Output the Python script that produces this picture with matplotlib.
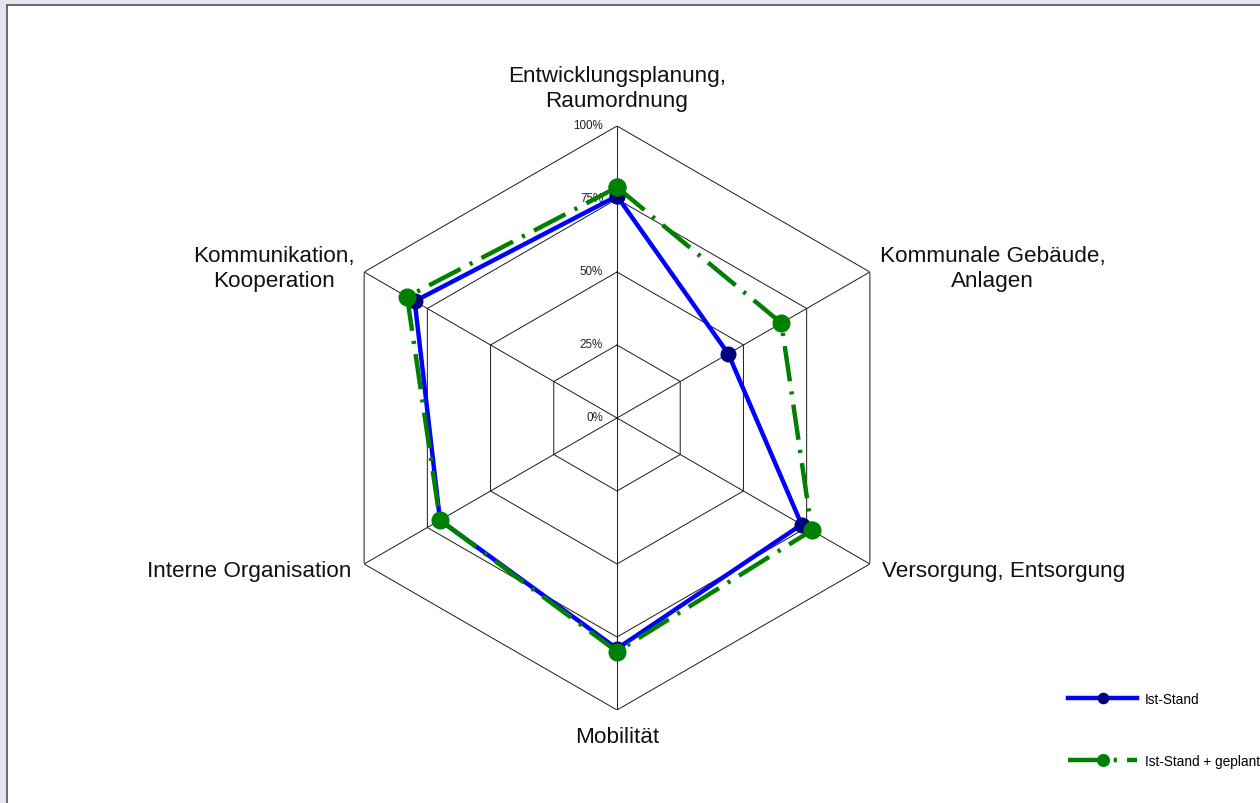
import numpy as np
import matplotlib
matplotlib.use('Agg')
import matplotlib.pyplot as plt
from matplotlib.patches import Rectangle
from matplotlib.lines import Line2D

# Daten (Prozent), Reihenfolge im Uhrzeigersinn ab oben
categories = [
    'Entwicklungsplanung,\nRaumordnung',
    'Kommunale Gebäude,\nAnlagen',
    'Versorgung, Entsorgung',
    'Mobilität',
    'Interne Organisation',
    'Kommunikation,\nKooperation',
]
ist_stand = [76, 44, 73, 79, 70, 80]
ist_geplant = [79, 65, 77, 80, 70, 83]
levels = [0, 25, 50, 75, 100]
series_names = ['Ist-Stand', 'Ist-Stand + geplant']

plt.rcParams['font.family'] = ['Liberation Sans', 'DejaVu Sans']

W, H = 1260, 804
fig = plt.figure(figsize=(W / 100, H / 100), dpi=100, facecolor='#e3e6f1')

# weisse Zeichenflaeche mit Rahmen oben/links
fig.patches.append(Rectangle((7 / W, 0), 1, 1 - 6 / H, transform=fig.transFigure,
                             facecolor='white', edgecolor='none', zorder=-10))
fig.lines.append(Line2D([6.5 / W, 1], [1 - 6 / H, 1 - 6 / H], transform=fig.transFigure,
                        color='#5f5f66', lw=1.3, zorder=-5))
fig.lines.append(Line2D([6.5 / W, 6.5 / W], [0, 1 - 6 / H], transform=fig.transFigure,
                        color='#5f5f66', lw=1.3, zorder=-5))

cx, cy, R = 617, 419, 292
ax = fig.add_axes([(cx - R) / W, (H - cy - R) / H, 2 * R / W, 2 * R / H], projection='polar')
ax.set_facecolor('none')
ax.set_theta_zero_location('N')
ax.set_theta_direction(-1)
ax.set_ylim(0, 100)
ax.grid(False)
ax.set_xticks([])
ax.set_yticks([])
ax.spines['polar'].set_visible(False)

n = len(categories)
angles = np.linspace(0, 2 * np.pi, n, endpoint=False)
closed = np.append(angles, angles[0])

# Gitter: Sechsecke und Speichen
for lv in levels[1:]:
    ax.plot(closed, [lv] * (n + 1), color='#1a1a1a', lw=0.7, zorder=1)
for a in angles:
    ax.plot([a, a], [0, levels[-1]], color='#1a1a1a', lw=0.7, zorder=1)

# Skalenbeschriftung
for lv in levels:
    ax.annotate(f'{lv}%', xy=(0, lv), xytext=(-10, 0.5), textcoords='offset points',
                ha='right', va='center', fontsize=8.4, color='#222222')

# Achsenbeschriftungen
label_pos = [
    ((0, 10.5), 'center', 'bottom'),
    ((7, 3), 'left', 'center'),
    ((9, -4.5), 'left', 'center'),
    ((0, -11.5), 'center', 'top'),
    ((-9, -4.5), 'right', 'center'),
    ((-7, 3), 'right', 'center'),
]
for a, lab, (off, ha, va) in zip(angles, categories, label_pos):
    ax.annotate(lab, xy=(a, 100), xytext=off, textcoords='offset points',
                ha=ha, va=va, multialignment='center', fontsize=16.2,
                linespacing=1.25, color='#111111', annotation_clip=False)

# Datenreihen
l1, = ax.plot(closed, ist_stand + ist_stand[:1], color='#0000ff', lw=3.2,
              marker='o', ms=10.5, mfc='#000080', mec='#000080', zorder=3, clip_on=False)
l2, = ax.plot(closed, ist_geplant + ist_geplant[:1], color='#008000', lw=3.2,
              linestyle=(0, (8, 2.3, 0.7, 2.3)),
              marker='o', ms=12, mfc='#008000', mec='#008000', zorder=4, clip_on=False)

fig.legend([l1, l2], series_names, loc='center left',
           bbox_to_anchor=(1068 / W, 1 - 731 / H), frameon=False,
           fontsize=9.8, handlelength=5.1, handletextpad=0.55,
           labelspacing=3.5, markerscale=0.7, numpoints=1,
           borderpad=0, borderaxespad=0)

fig.savefig('out.png', dpi=100, facecolor=fig.get_facecolor())
